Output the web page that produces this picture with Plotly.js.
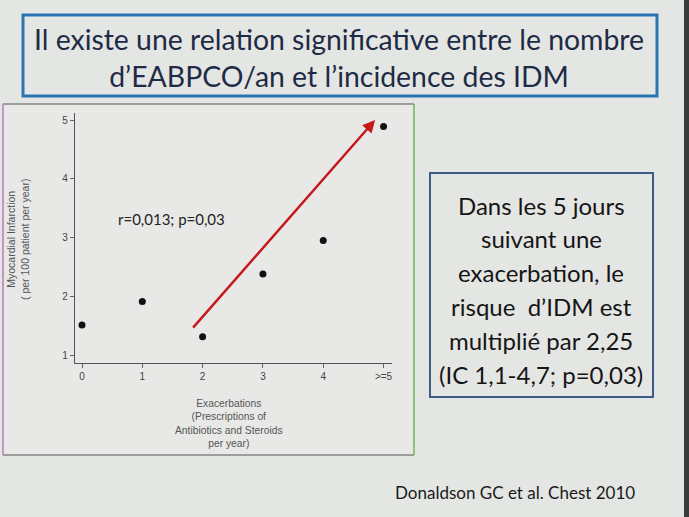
<!DOCTYPE html>
<html>
<head>
<meta charset="utf-8">
<script src="https://cdn.plot.ly/plotly-3.0.1.min.js"></script>
<style>
  html, body { margin: 0; padding: 0; background: #e5e7e4; }
  #chart { width: 689px; height: 517px; }
</style>
</head>
<body>
<div id="chart"></div>
<script>
// data
var exacerbations = [0, 1, 2, 3, 4, 5];
var tickLabels = ["0", "1", "2", "3", "4", ">=5"];
var miRate = [1.51, 1.91, 1.31, 2.38, 2.95, 4.89];
var yTicks = [1, 2, 3, 4, 5];
var arrowFrom = [1.82, 1.44];
var arrowTo = [4.86, 5.0];
var boxLines = ["Dans les 5 jours", "suivant une", "exacerbation, le",
    "risque  d\u2019IDM est", "multipli\u00e9 par 2,25", "(IC 1,1-4,7; p=0,03)"];

var W = 689, H = 517;
function px(x) { return x / W; }
function py(y) { return 1 - y / H; }

var trace = {
    x: exacerbations,
    y: miRate,
    mode: 'markers',
    type: 'scatter',
    marker: { color: '#111', size: 7 },
    hoverinfo: 'skip'
};

var axisFont = { family: 'Liberation Sans, Arial, sans-serif', size: 10, color: '#444' };
var slideFont = 'Lato, Carlito, Calibri, sans-serif';

var annotations = [
    { xref: 'paper', yref: 'paper', x: px(339), y: py(57), xanchor: 'center', yanchor: 'middle',
      text: 'Il existe une relation significative entre le nombre<br>d\u2019EABPCO/an et l\u2019incidence des IDM',
      showarrow: false, font: { family: slideFont, size: 28.4, color: '#1f2b46' }, align: 'center' },
    { xref: 'paper', yref: 'paper', x: px(18), y: py(240), xanchor: 'center', yanchor: 'middle',
      text: 'Myocardial Infarction<br>( per 100 patient per year)', textangle: -90,
      showarrow: false, font: { family: 'Liberation Sans, Arial, sans-serif', size: 10.5, color: '#555' } },
    { xref: 'paper', yref: 'paper', x: px(229), y: py(423), xanchor: 'center', yanchor: 'middle',
      text: 'Exacerbations<br>(Prescriptions of<br>Antibiotics and Steroids<br>per year)',
      showarrow: false, font: { family: 'Liberation Sans, Arial, sans-serif', size: 10.3, color: '#555' } },
    { xref: 'paper', yref: 'paper', x: px(116), y: py(219), xanchor: 'left', yanchor: 'middle',
      text: 'r=0,013; p=0,03',
      showarrow: false, font: { family: slideFont, size: 15, color: '#222' } },
    { xref: 'x', yref: 'y', x: arrowTo[0], y: arrowTo[1], ax: arrowFrom[0], ay: arrowFrom[1],
      axref: 'x', ayref: 'y', text: '', showarrow: true,
      arrowhead: 2, arrowsize: 1, arrowwidth: 2.5, arrowcolor: '#c41a1a' },
    { xref: 'paper', yref: 'paper', x: px(393), y: py(492), xanchor: 'left', yanchor: 'middle',
      text: 'Donaldson GC et al. Chest 2010',
      showarrow: false, font: { family: slideFont, size: 17, color: '#1a1a1a' } }
];

// right-hand text box, one line per annotation to get the slide's line spacing
boxLines.forEach(function (line, i) {
    annotations.push({
        xref: 'paper', yref: 'paper', x: px(541), y: py(205 + i * 33.8),
        xanchor: 'center', yanchor: 'middle', text: line, showarrow: false,
        font: { family: slideFont, size: 24, color: '#151515' }
    });
});

var layout = {
    width: W,
    height: H,
    margin: { l: 0, r: 0, t: 0, b: 0 },
    paper_bgcolor: '#e4e6e3',
    plot_bgcolor: 'rgba(0,0,0,0)',
    showlegend: false,
    xaxis: {
        domain: [px(75), px(392)],
        range: [-0.116, 5.14],
        tickvals: exacerbations,
        ticktext: tickLabels,
        ticks: 'outside', ticklen: 4, tickcolor: '#666', tickwidth: 1,
        showline: true, linecolor: '#555', linewidth: 1.2,
        showgrid: false, zeroline: false,
        tickfont: axisFont
    },
    yaxis: {
        domain: [py(363), py(113)],
        range: [0.864, 5.12],
        tickvals: yTicks,
        ticks: 'outside', ticklen: 4, tickcolor: '#666', tickwidth: 1,
        showline: true, linecolor: '#555', linewidth: 1.2,
        showgrid: false, zeroline: false,
        tickfont: axisFont
    },
    shapes: [
        // title box
        { type: 'rect', xref: 'paper', yref: 'paper', x0: px(23), x1: px(657), y0: py(15), y1: py(96),
          line: { color: '#2a74b4', width: 3 }, fillcolor: 'rgba(0,0,0,0)' },
        // chart panel
        { type: 'rect', xref: 'paper', yref: 'paper', x0: px(3), x1: px(414), y0: py(104), y1: py(455),
          line: { width: 0 }, fillcolor: '#e8e9e7', layer: 'below' },
        { type: 'line', xref: 'paper', yref: 'paper', x0: px(3), x1: px(414), y0: py(104), y1: py(104),
          line: { color: '#555', width: 1 } },
        { type: 'line', xref: 'paper', yref: 'paper', x0: px(3), x1: px(414), y0: py(455), y1: py(455),
          line: { color: '#555', width: 1 } },
        { type: 'line', xref: 'paper', yref: 'paper', x0: px(3), x1: px(3), y0: py(104), y1: py(455),
          line: { color: '#b77ab8', width: 1.5 } },
        { type: 'line', xref: 'paper', yref: 'paper', x0: px(414), x1: px(414), y0: py(104), y1: py(455),
          line: { color: '#6cb45a', width: 1.5 } },
        // right text box
        { type: 'rect', xref: 'paper', yref: 'paper', x0: px(430), x1: px(653), y0: py(173), y1: py(397),
          line: { color: '#3d5a8c', width: 2 }, fillcolor: 'rgba(0,0,0,0)' },
        // dark slide edge
        { type: 'rect', xref: 'paper', yref: 'paper', x0: px(684), x1: 1, y0: 0, y1: 1,
          line: { width: 0 }, fillcolor: '#3a3c3c' }
    ],
    annotations: annotations
};

var config = { staticPlot: true };

Plotly.newPlot('chart', [trace], layout, config);
</script>
</body>
</html>
